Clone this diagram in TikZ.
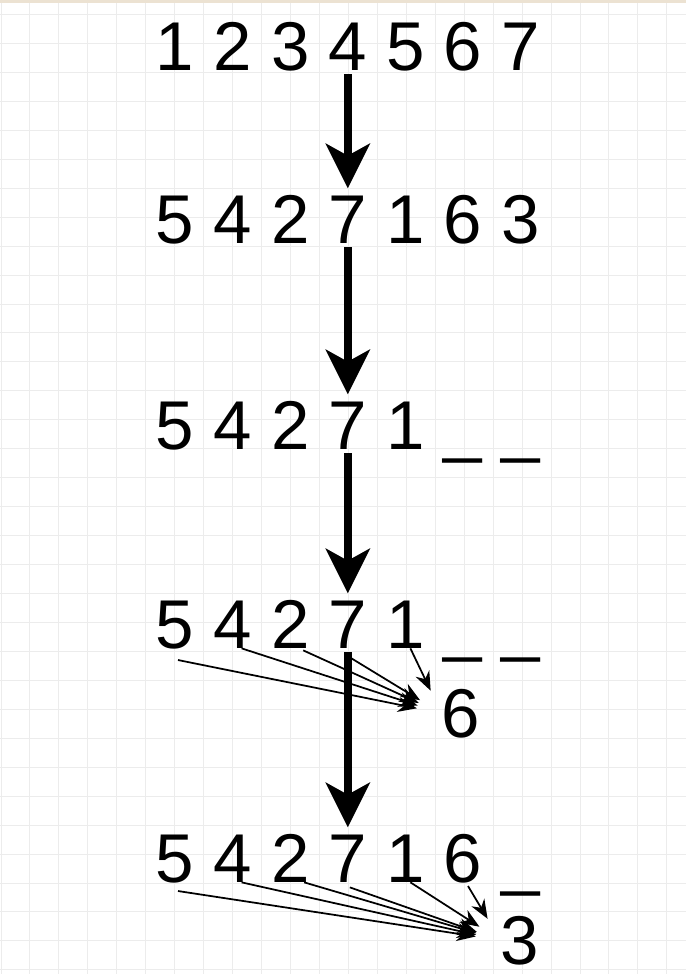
\documentclass[tikz,border=0pt]{standalone}
\usepackage{fontspec}
\setmainfont{Liberation Sans}
\usetikzlibrary{arrows.meta}

\definecolor{topbar}{RGB}{236,226,210}

\begin{document}
\begin{tikzpicture}[x=0.02cm, y=-0.02cm,
		digit/.style={inner sep=0pt, anchor=base, font=\fontsize{39.3pt}{40pt}\selectfont},
		gridline/.style={gray!15, line width=0.02cm},
		bigarrow/.style={-{Stealth[length=0.9cm, width=0.9cm, inset=0.25cm, line width=0pt]}, line width=0.15cm, shorten <=0.08cm, shorten >=0.14cm},
		thinarrow/.style={-{Stealth[length=0.38cm, width=0.3cm]}, line width=0.035cm, shorten >=0.5cm}]
		\useasboundingbox (0,0) rectangle (686,974);
		\fill[white] (0,0) rectangle (686,974);
		% grid paper
		\foreach \i in {0,...,23}
			\draw[gridline] ({1+28.95*\i},0) -- ({1+28.95*\i},974);
		\foreach \j in {0,...,33}
			\draw[gridline] (0,{14.5+28.95*\j}) -- (686,{14.5+28.95*\j});
		\fill[topbar] (0,0) rectangle (686,3);
		
		% rows
		\foreach \d [count=\i] in {1,2,3,4,5,6,7}
			\node[digit] (a\i) at ({175+57.6*(\i-1)},70) {\d};
		\foreach \d [count=\i] in {5,4,2,7,1,6,3}
			\node[digit] (b\i) at ({175+57.6*(\i-1)},243) {\d};
		\foreach \d [count=\i] in {5,4,2,7,1}
			\node[digit] (c\i) at ({175+57.6*(\i-1)},449) {\d};
		\node[digit] (c6) at ({175+57.6*5},449) {\_};
		\node[digit] (c7) at ({175+57.6*6},449) {\_};
		\foreach \d [count=\i] in {5,4,2,7,1}
			\node[digit] (d\i) at ({175+57.6*(\i-1)},648) {\d};
		\node[digit] (d6) at ({175+57.6*5},648) {\_};
		\node[digit] (d7) at ({175+57.6*6},648) {\_};
		\foreach \d [count=\i] in {5,4,2,7,1,6}
			\node[digit] (e\i) at ({175+57.6*(\i-1)},882) {\d};
		\node[digit] (e7) at ({175+57.6*6},882) {\_};
		
		\node[digit] (six) at (461,737) {6};
		\node[digit] (three) at (520,964) {3};
		
		% steps
		\draw[bigarrow] (a4.south) -- (b4.north);
		\draw[bigarrow] (b4.south) -- (c4.north);
		\draw[bigarrow] (c4.south) -- (d4.north);
		\draw[bigarrow] (d4.south) -- (e4.north);
		
		% compared against
		\foreach \n/\dx/\dy in {d1/3/11, d2/9/0, d3/13/2, d4/2/9, d5/5/0}
			\draw[thinarrow] ([shift={(\dx,\dy)}]\n.south) -- (six.west);
		\foreach \n/\dx/\dy in {e1/3/8, e2/9/0, e3/14/0, e4/2/5, e5/5/0, e6/5/3}
			\draw[thinarrow] ([shift={(\dx,\dy)}]\n.south) -- (three.west);
	\end{tikzpicture}
\end{document}
